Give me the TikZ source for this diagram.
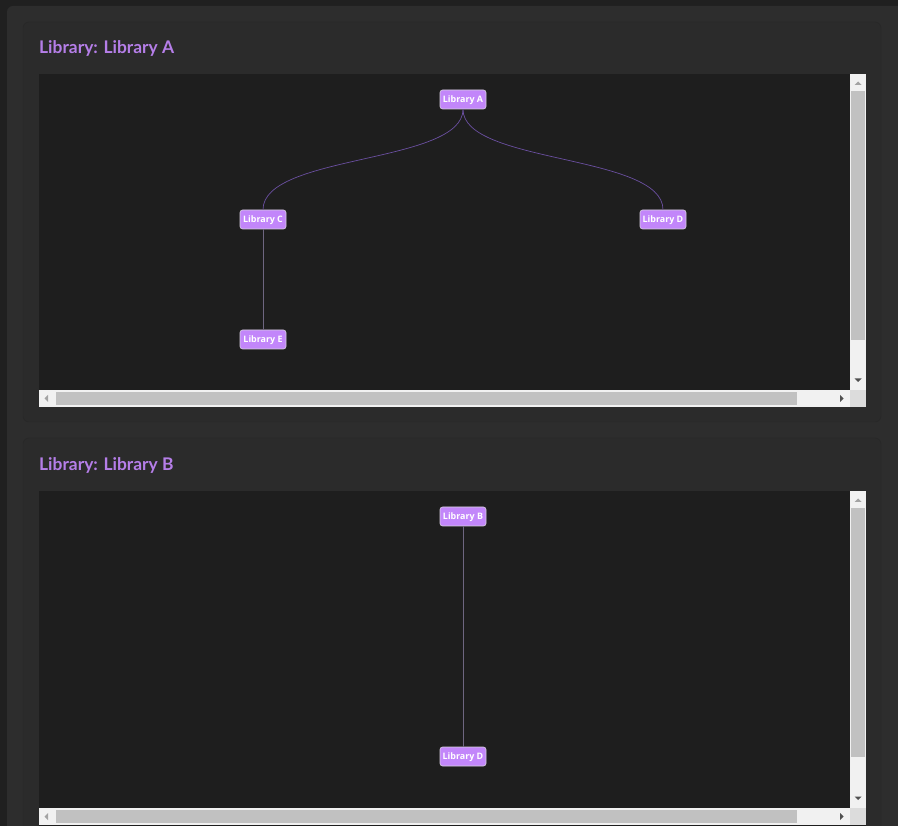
\documentclass[tikz,border=0pt]{standalone}
\usepackage{fontspec}
\setmainfont{Lato}
\newfontfamily\headfont{Lato}
\newfontfamily\nodefont{Open Sans}
\definecolor{outerbg}{HTML}{202020}
\definecolor{panelbg}{HTML}{2D2D2D}
\definecolor{cardbg}{HTML}{2B2B2B}
\definecolor{cardline}{HTML}{262626}
\definecolor{canvasbg}{HTML}{1E1E1E}
\definecolor{titlecol}{HTML}{B57EE8}
\definecolor{nodefill}{HTML}{C286FA}
\definecolor{nodeedge}{HTML}{D8D0E0}
\definecolor{edgepurple}{HTML}{6A4FA0}
\definecolor{edgegray}{HTML}{6E6680}
\definecolor{sbtrack}{HTML}{F1F1F1}
\definecolor{sbthumb}{HTML}{C1C1C1}
\definecolor{sbcorner}{HTML}{DCDCDC}
\definecolor{arrowlight}{HTML}{A3A3A3}
\definecolor{arrowdark}{HTML}{505050}
\tikzset{
  lib/.style={draw=nodeedge, line width=0.6pt, fill=nodefill, rounded corners=2.5pt,
    minimum width=46pt, minimum height=19pt, inner sep=0pt,
    text height=6.8pt, text depth=1.2pt,
    text=white, font=\nodefont\bfseries\fontsize{8.9}{10}\selectfont},
  title/.style={anchor=base west, text=titlecol, inner sep=0pt, font=\headfont\bfseries\fontsize{17.4}{20}\selectfont},
  curvedge/.style={draw=edgepurple, line width=0.7pt},
  straightedge/.style={draw=edgegray, line width=0.7pt},
}
\begin{document}
\begin{tikzpicture}[x=1pt,y=-1pt]
\useasboundingbox (0,0) rectangle (898,826);
\fill[outerbg] (0,0) rectangle (898,826);
\fill[panelbg, rounded corners=6pt] (7,6) rectangle (905,840);
% cards
\draw[cardline, fill=cardbg, rounded corners=6pt] (23,22) rectangle (881,422);
\draw[cardline, fill=cardbg, rounded corners=6pt] (23,438) rectangle (881,850);
% titles
\node[title] (t1) at (39,53.5) {Library: Library A};
\node[title] (t2) at (39,470.5) {Library: Library B};

% ---------- canvas 1 ----------
\fill[canvasbg] (39,74) rectangle (866,407);
\fill[sbtrack] (850,74) rectangle (866,390);
\fill[sbthumb] (851,91) rectangle (865,340);
\fill[sbtrack] (39,390) rectangle (850,407);
\fill[sbthumb] (56,392) rectangle (797,405);
\fill[sbcorner] (850,390) rectangle (866,407);
\fill[arrowlight] (854.5,85) -- (861.5,85) -- (858,81.5) -- cycle;
\fill[arrowdark] (854.5,378.5) -- (861.5,378.5) -- (858,382) -- cycle;
\fill[arrowlight] (44.5,398.5) -- (48,395) -- (48,402) -- cycle;
\fill[arrowdark] (843.5,398.5) -- (840,395) -- (840,402) -- cycle;

\node[lib] (a) at (463,99.5) {Library A};
\node[lib] (c) at (263,219.5) {Library C};
\node[lib] (d) at (663,219.5) {Library D};
\node[lib] (e) at (263,339.5) {Library E};
\draw[curvedge] (a.south) .. controls (463,164) and (263,154) .. (c.north);
\draw[curvedge] (a.south) .. controls (463,164) and (663,154) .. (d.north);
\draw[straightedge] (c.south) -- (e.north);

% ---------- canvas 2 ----------
\fill[canvasbg] (39,491) rectangle (866,826);
\fill[sbtrack] (850,491) rectangle (866,808);
\fill[sbthumb] (851,508) rectangle (865,757);
\fill[sbtrack] (39,808) rectangle (850,825);
\fill[sbthumb] (56,810) rectangle (797,823);
\fill[sbcorner] (850,808) rectangle (866,825);
\fill[arrowlight] (854.5,502) -- (861.5,502) -- (858,498.5) -- cycle;
\fill[arrowdark] (854.5,796.5) -- (861.5,796.5) -- (858,800) -- cycle;
\fill[arrowlight] (44.5,816.5) -- (48,813) -- (48,820) -- cycle;
\fill[arrowdark] (843.5,816.5) -- (840,813) -- (840,820) -- cycle;

\node[lib] (b) at (463,516.5) {Library B};
\node[lib] (d2) at (463,756.5) {Library D};
\draw[straightedge] (b.south) -- (d2.north);
\end{tikzpicture}
\end{document}
